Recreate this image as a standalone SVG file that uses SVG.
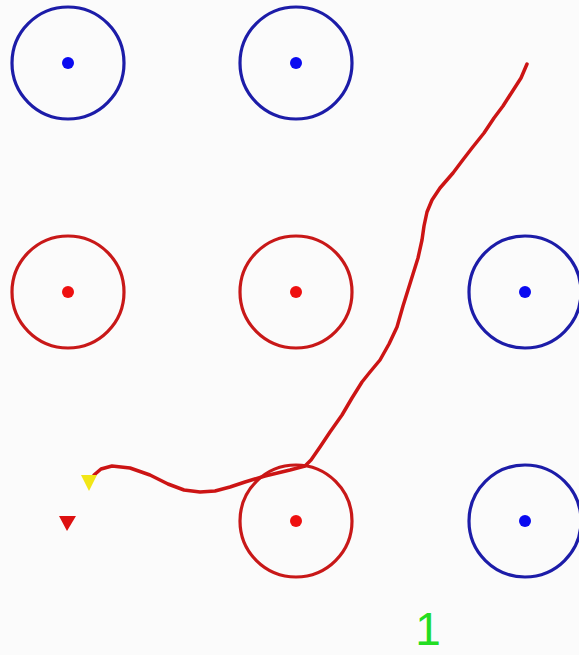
<svg xmlns="http://www.w3.org/2000/svg" width="579" height="655" viewBox="0 0 579 655">
<style>
.ring{fill:none;stroke-width:3.2}
.blue .ring{stroke:#1c1ca8}
.blue .dot{fill:#0a0af0}
.red .ring{stroke:#c81818}
.red .dot{fill:#ee1010}
.trace{fill:none;stroke:#cc1414;stroke-width:3.5;stroke-linejoin:round;stroke-linecap:round}
</style>
<rect width="579" height="655" fill="#fbfbfb"/>
<g id="n1" class="blue"><circle class="ring" cx="68" cy="63" r="56"/><circle class="dot" cx="68" cy="63" r="6"/></g>
<g id="n2" class="blue"><circle class="ring" cx="296" cy="63" r="56"/><circle class="dot" cx="296" cy="63" r="6"/></g>
<g id="n4" class="red"><circle class="ring" cx="68" cy="292" r="56"/><circle class="dot" cx="68" cy="292" r="6"/></g>
<g id="n5" class="red"><circle class="ring" cx="296" cy="292" r="56"/><circle class="dot" cx="296" cy="292" r="6"/></g>
<g id="n6" class="blue"><circle class="ring" cx="525" cy="292" r="56"/><circle class="dot" cx="525" cy="292" r="6"/></g>
<g id="n8" class="red"><circle class="ring" cx="296" cy="521" r="56"/><circle class="dot" cx="296" cy="521" r="6"/></g>
<g id="n9" class="blue"><circle class="ring" cx="525" cy="521" r="56"/><circle class="dot" cx="525" cy="521" r="6"/></g>
<g id="connectors">
<path class="trace" d="M527,64 L521,78 L512,92 L503,106 L494,118 L484,133 L472,148 L462,161 L453,173 L440,188 L432,200 L427,212 L424,226 L422,240 L418,258 L413,274 L408,290 L403,306 L397,327 L389,344 L380,360 L370,372 L362,382 L352,398 L342,415 L330,432 L320,447 L311,460 L305,466 L290,470 L265,476 L245,482 L230,487 L215,491 L200,492 L184,490 L168,484 L150,475 L130,468 L112,466 L101,469 L94,475"/>
</g>
<polygon points="81,475 97,475 89,491" fill="#f2e616"/>
<polygon points="59,516 76,516 67,531" fill="#dd1010"/>
<text x="428" y="645" font-family="Liberation Sans, Arial, sans-serif" font-size="46" fill="#22dd22" text-anchor="middle">1</text>
</svg>
